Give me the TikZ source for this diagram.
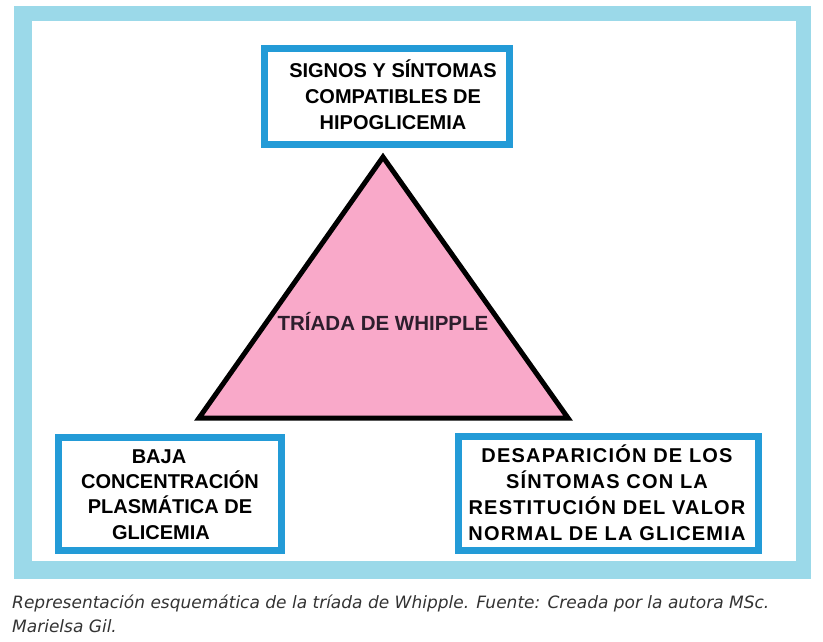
\documentclass[tikz,border=0pt]{standalone}
\usepackage{fontspec}
\setmainfont{Liberation Sans}
\newfontfamily\capfont{DejaVu Sans}
\definecolor{frameblue}{RGB}{155,217,233}
\definecolor{boxblue}{RGB}{35,155,215}
\definecolor{tripink}{RGB}{249,169,201}
\definecolor{captxt}{RGB}{51,51,51}
\definecolor{tritxt}{RGB}{45,30,45}
\begin{document}
\begin{tikzpicture}[x=1pt,y=-1pt,
  box/.style={draw=boxblue, line width=7pt, fill=white, rectangle, inner sep=0pt},
  lbl/.style={font=\fontsize{20}{26}\selectfont\bfseries, align=center, text=black, inner sep=0pt, anchor=base}]
\useasboundingbox (0,0) rectangle (823,641);
% frame
\fill[frameblue] (14,6) rectangle (811,579);
\fill[white] (32,21) rectangle (796,561);
% triangle
\coordinate (apex) at (383,157);
\coordinate (bl) at (199,418);
\coordinate (br) at (568,418);
\draw[line width=5pt, fill=tripink] (apex) -- (br) -- (bl) -- cycle;
\node[lbl, font=\fontsize{20.5}{26}\selectfont\bfseries, text=tritxt] (tri) at (383,330) {TRÍADA DE WHIPPLE};
% boxes
\node[box, minimum width=245pt, minimum height=96pt] (top) at (387,96.5) {};
\node[lbl] (topt) at (393,129) {SIGNOS Y SÍNTOMAS\\COMPATIBLES DE\\HIPOGLICEMIA};
\node[box, minimum width=223pt, minimum height=113pt] (left) at (170,494) {};
\node[lbl, font=\fontsize{20}{25.3}\selectfont\bfseries] (leftt) at (170,539) {BAJA\hspace*{22pt}\\CONCENTRACIÓN\\PLASMÁTICA DE\\GLICEMIA\hspace*{18pt}};
\node[box, minimum width=300pt, minimum height=114pt] (right) at (608.5,493.5) {};
\node[lbl, font=\fontsize{20}{26}\selectfont\bfseries\addfontfeatures{LetterSpace=6}] (rightt) at (607,540) {DESAPARICIÓN DE LOS\\SÍNTOMAS CON LA\\RESTITUCIÓN DEL VALOR\\NORMAL DE LA GLICEMIA};
% caption
\node[anchor=base west, inner sep=0pt, align=left, text=captxt, font=\capfont\itshape\fontsize{17}{24}\selectfont] (cap) at (12,632) {Representación esquemática de la tríada de Whipple. Fuente: Creada por la autora MSc.\\Marielsa Gil.};
\end{tikzpicture}
\end{document}
